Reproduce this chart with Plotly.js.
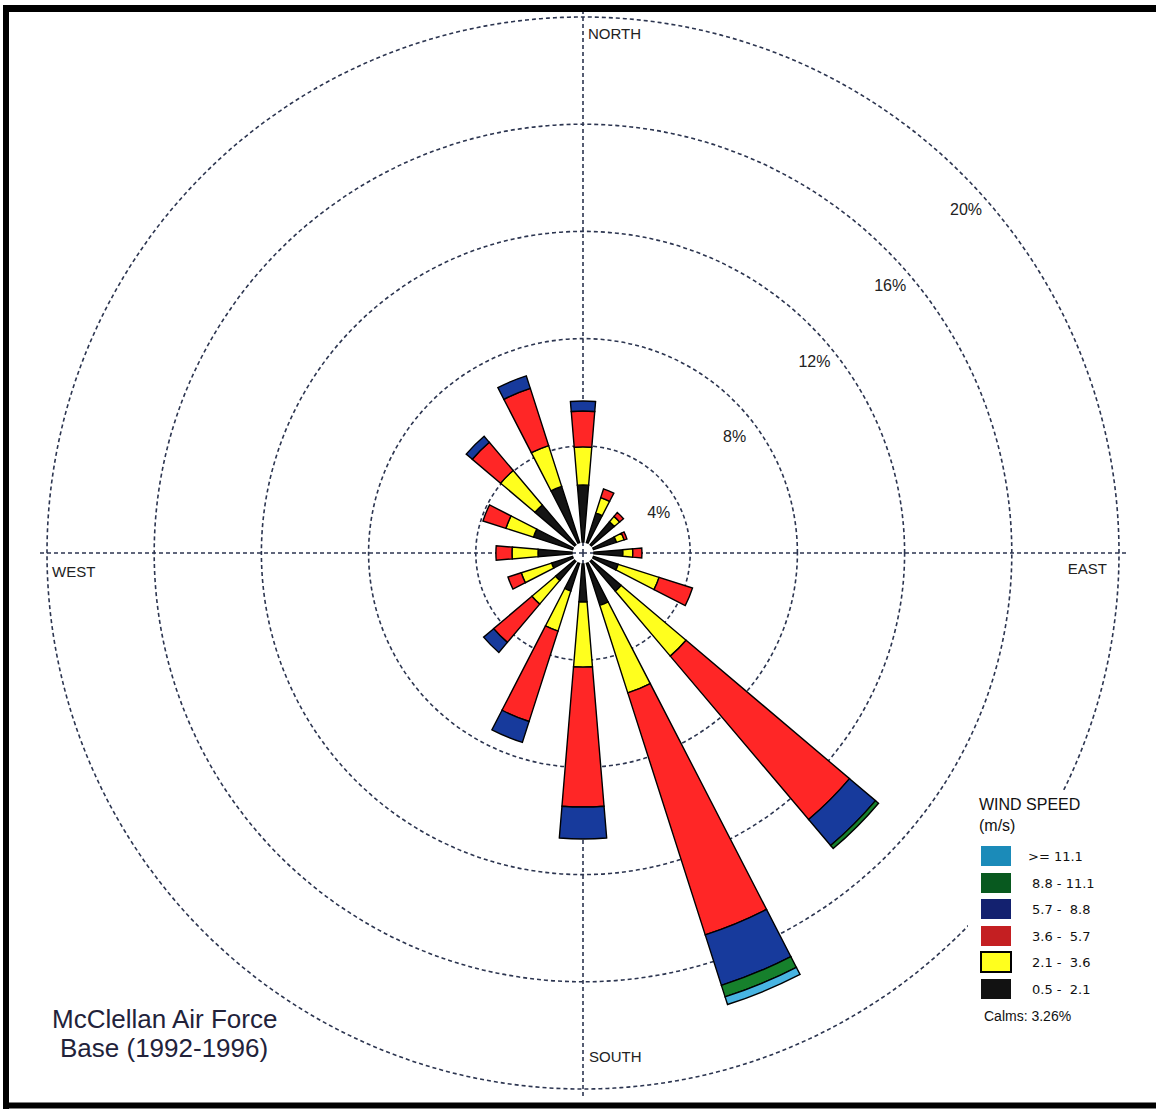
<!DOCTYPE html>
<html>
<head>
<meta charset="utf-8">
<script src="https://cdn.plot.ly/plotly-3.0.1.min.js"></script>
<style>
  html, body { margin: 0; padding: 0; background: #ffffff; }
  #chart { width: 1156px; height: 1109px; }
</style>
</head>
<body>
<div id="chart"></div>
<script>
// ---- data ----
const directions = ['N','NNE','NE','ENE','E','ESE','SE','SSE','S','SSW','SW','WSW','W','WNW','NW','NNW'];
const directionDegrees = [0,22.5,45,67.5,90,112.5,135,157.5,180,202.5,225,247.5,270,292.5,315,337.5];

const speedClasses = ['0.5 -  2.1', '2.1 -  3.6', '3.6 -  5.7', '5.7 -  8.8', '8.8 - 11.1', '>= 11.1'];

// frequency (%) per direction for each wind speed class
const speed05to21  = [2.13,1.16,1.12,0.90,1.08,0.97,1.46,1.64,1.42,1.08,0.93,0.82,1.27,1.53,1.94,2.20];
const speed21to36  = [1.42,0.60,0.26,0.30,0.37,1.60,3.17,3.43,2.43,1.57,1.16,1.19,0.97,1.08,1.68,1.60];
const speed36to57  = [1.34,0.34,0.19,0.11,0.34,1.31,7.99,9.48,5.22,3.54,1.87,0.52,0.60,0.90,1.38,2.24];
const speed57to88  = [0.37,0,0,0,0,0,1.27,1.98,1.19,0.82,0.49,0,0,0,0.30,0.49];
const speed88to111 = [0,0,0,0,0,0,0.15,0.45,0,0,0,0,0,0,0,0];
const speedGe111   = [0,0,0,0,0,0,0,0.30,0,0,0,0,0,0,0,0];

const calmsPercent = 3.26;
const ringValues = [4, 8, 12, 16, 20];
const compassLabels = ['NORTH', 'EAST', 'SOUTH', 'WEST'];
const compassDegrees = [0, 90, 180, 270];
const titleLines = ['McClellan Air Force', 'Base (1992-1996)'];

// ---- styles ----
const barColors    = ['#141414', '#ffff1e', '#ff2626', '#173a9c', '#16802c', '#48b4e2'];
const legendColors = ['#121212', '#ffff1e', '#c41f22', '#13216f', '#08591f', '#1b8bb9'];
const calmRadius = 0.41;          // radius of the empty centre circle (in % units)
const W = 1156, H = 1109;
const cx = 583, cy = 553;
const pxPerUnit = 26.8;
const rMax = 20.3;
const R = rMax * pxPerUnit;       // outer radius of the polar area, px
const px = x => x / W;
const py = y => 1 - y / H;

// polar point (r, theta) from a screen pixel, for text placement
function polarFromPixel(x, y) {
  const dx = (x - cx) / pxPerUnit, dy = (cy - y) / pxPerUnit;
  let t = Math.atan2(dx, dy) * 180 / Math.PI;
  if (t < 0) t += 360;
  return [Math.hypot(dx, dy), t];
}

const series = [speed05to21, speed21to36, speed36to57, speed57to88, speed88to111, speedGe111];

const traces = [];
const cumulative = directions.map(() => calmRadius);
series.forEach((vals, i) => {
  const th = [], rr = [], bb = [];
  vals.forEach((v, k) => {
    if (v > 0) { th.push(directionDegrees[k]); rr.push(v); bb.push(cumulative[k]); }
  });
  traces.push({
    type: 'barpolar',
    name: speedClasses[i],
    theta: th, r: rr, base: bb,
    width: 9.5,
    marker: { color: barColors[i], line: { color: '#000000', width: 1.4 } },
    showlegend: false,
    hoverinfo: 'skip'
  });
  vals.forEach((v, k) => { cumulative[k] += v; });
});

// ring labels, placed a little below each ring's crossing with the NE diagonal
const ringR = [], ringT = [];
ringValues.forEach(v => {
  const d = v * pxPerUnit * Math.SQRT1_2;
  const p = polarFromPixel(cx + d + (v >= 12 ? 4 : 0), cy - d + 37);
  ringR.push(p[0]); ringT.push(p[1]);
});
traces.push({
  type: 'scatterpolar', mode: 'text',
  r: ringR, theta: ringT,
  text: ringValues.map(v => v + '%'),
  textfont: { family: 'Liberation Sans, Arial, sans-serif', size: 16, color: '#222222' },
  showlegend: false, hoverinfo: 'skip'
});

// compass labels
const compassAnchor = [[588, 35], [1107, 570], [589, 1058], [52, 573]];
const cR = [], cT = [];
compassAnchor.forEach(a => { const p = polarFromPixel(a[0], a[1]); cR.push(p[0]); cT.push(p[1]); });
traces.push({
  type: 'scatterpolar', mode: 'text',
  r: cR, theta: cT,
  text: compassLabels,
  textposition: ['middle right', 'middle left', 'middle right', 'middle right'],
  textfont: { family: 'Liberation Sans, Arial, sans-serif', size: 15, color: '#222222' },
  showlegend: false, hoverinfo: 'skip'
});

// ---- custom legend ----
const shapes = [];
const annotations = [];
// white backdrop for legend (covers the outer ring there)
shapes.push({
  type: 'rect', xref: 'paper', yref: 'paper', layer: 'above',
  x0: px(968), x1: px(1112), y0: py(790), y1: py(1030),
  fillcolor: '#ffffff', line: { width: 0 }
});
const legendTop = [846, 873, 899, 926, 952, 979]; // top of each box, from ">= 11.1" down
for (let j = 0; j < 6; j++) {
  const i = 5 - j;
  shapes.push({
    type: 'rect', xref: 'paper', yref: 'paper',
    x0: px(981), x1: px(1011), y0: py(legendTop[j]), y1: py(legendTop[j] + 20),
    fillcolor: legendColors[i],
    line: { color: i === 1 ? '#000000' : legendColors[i], width: i === 1 ? 2 : 0 }
  });
  annotations.push({
    xref: 'paper', yref: 'paper', x: px(i === 5 ? 1026 : 1030), y: py(legendTop[j] + 10),
    xanchor: 'left', yanchor: 'middle', showarrow: false,
    text: speedClasses[i].replace(/ /g, '&nbsp;'),
    font: { family: 'DejaVu Sans, sans-serif', size: 13, color: '#111111' }
  });
}
annotations.push({
  xref: 'paper', yref: 'paper', x: px(977), y: py(815), xanchor: 'left', yanchor: 'middle',
  showarrow: false, align: 'left', text: 'WIND SPEED<br>(m/s)',
  font: { family: 'Liberation Sans, Arial, sans-serif', size: 16, color: '#111111' }
});
annotations.push({
  xref: 'paper', yref: 'paper', x: px(982), y: py(1016), xanchor: 'left', yanchor: 'middle',
  showarrow: false, text: 'Calms: ' + calmsPercent.toFixed(2) + '%',
  font: { family: 'Liberation Sans, Arial, sans-serif', size: 14, color: '#111111' }
});
const titleY = [1019, 1048];
titleLines.forEach((t, k) => {
  annotations.push({
    xref: 'paper', yref: 'paper', x: px(164), y: py(titleY[k]), xanchor: 'center', yanchor: 'middle',
    showarrow: false, text: t,
    font: { family: 'Liberation Sans, Arial, sans-serif', size: 26, color: '#22223a' }
  });
});

// frame lines
shapes.push({ type: 'line', xref: 'paper', yref: 'paper', x0: px(3), x1: 1, y0: py(8.5), y1: py(8.5), line: { color: '#000000', width: 7 } });
shapes.push({ type: 'line', xref: 'paper', yref: 'paper', x0: px(6), x1: px(6), y0: py(5), y1: 0, line: { color: '#000000', width: 6 } });
shapes.push({ type: 'line', xref: 'paper', yref: 'paper', x0: px(3), x1: 1, y0: py(1105.5), y1: py(1105.5), line: { color: '#000000', width: 6 } });

const gridColor = '#2c3550';
const layout = {
  width: W, height: H,
  margin: { l: 0, r: 0, t: 0, b: 0 },
  paper_bgcolor: '#ffffff',
  showlegend: false,
  polar: {
    domain: { x: [px(cx - R), px(cx + R)], y: [py(cy + R), py(cy - R)] },
    bgcolor: 'rgba(0,0,0,0)',
    barmode: 'overlay',
    radialaxis: {
      range: [0, rMax],
      tickvals: ringValues,
      showticklabels: false,
      ticks: '',
      showline: false,
      gridcolor: gridColor,
      gridwidth: 1.6,
      griddash: '4px,3px',
      layer: 'below traces'
    },
    angularaxis: {
      rotation: 90,
      direction: 'clockwise',
      tickvals: compassDegrees,
      showticklabels: false,
      ticks: '',
      showline: false,
      gridcolor: gridColor,
      gridwidth: 1.6,
      griddash: '4px,3px',
      layer: 'below traces'
    }
  },
  shapes: shapes,
  annotations: annotations
};

Plotly.newPlot('chart', traces, layout, { staticPlot: true, displayModeBar: false });
</script>
</body>
</html>
